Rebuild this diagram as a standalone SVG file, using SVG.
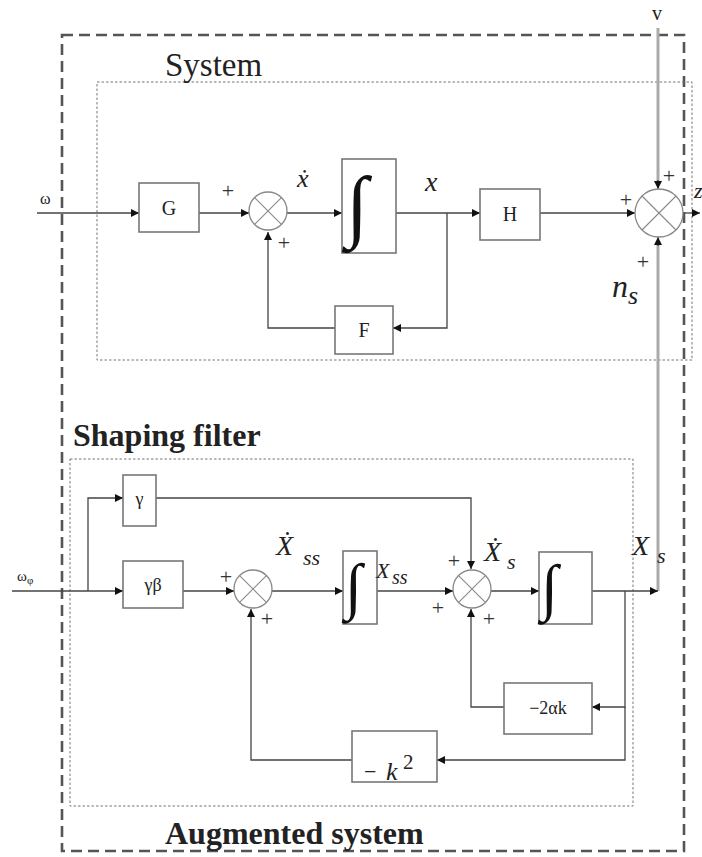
<svg xmlns="http://www.w3.org/2000/svg" width="702" height="857" viewBox="0 0 702 857">
<defs>
<marker id="ah" viewBox="0 0 10 10" refX="10" refY="5" markerWidth="8" markerHeight="8" markerUnits="userSpaceOnUse" orient="auto">
<path d="M0 0 L10 5 L0 10 Z" fill="#111"/>
</marker>
<style>
.blk{fill:#fff;stroke:#777;stroke-width:1.6}
.sum{fill:#fff;stroke:#888;stroke-width:1.3}
.cr{stroke:#888;stroke-width:1.1}
.ln{fill:none;stroke:#444;stroke-width:1.3}
.gl{fill:none;stroke:#aaa;stroke-width:3}
.t{font-family:"Liberation Serif","DejaVu Serif",serif;fill:#222}
.it{font-family:"Liberation Serif","DejaVu Serif",serif;font-style:italic;fill:#222}
.pl{font-family:"Liberation Serif","DejaVu Serif",serif;font-size:22px;fill:#333}
.int{font-family:"Liberation Serif","DejaVu Serif",serif;font-weight:bold;fill:#111}
</style>
</defs>
<rect width="702" height="857" fill="#fff"/>

<!-- frames -->
<g id="augmented">
<rect x="62" y="35" width="622" height="816" fill="none" stroke="#555" stroke-width="2.6" stroke-dasharray="11 6"/>
<text class="t" x="165" y="844" font-size="32" font-weight="bold">Augmented system</text>
</g>
<g id="system">
<rect x="97" y="82" width="595" height="278" fill="none" stroke="#777" stroke-width="1" stroke-dasharray="2.5 2"/>
<text class="t" x="165" y="76" font-size="33">System</text>
</g>
<g id="shaping">
<rect x="70" y="459" width="563" height="347" fill="none" stroke="#777" stroke-width="1" stroke-dasharray="2.5 2"/>
<text class="t" x="73" y="446" font-size="32" font-weight="bold">Shaping filter</text>
</g>

<!-- connectors -->
<g id="connectors">
<path class="ln" d="M37 213 H139" marker-end="url(#ah)"/>
<path class="ln" d="M199 213 H249" marker-end="url(#ah)"/>
<path class="ln" d="M287 213 H342" marker-end="url(#ah)"/>
<path class="ln" d="M396 213 H480" marker-end="url(#ah)"/>
<path class="ln" d="M447 213 V328 H393" marker-end="url(#ah)"/>
<path class="ln" d="M335 328 H268 V232" marker-end="url(#ah)"/>
<path class="ln" d="M540 213 H635" marker-end="url(#ah)"/>
<path class="gl" d="M658 28 V182"/>
<path class="ln" d="M658 180 V189" marker-end="url(#ah)"/>
<path class="ln" d="M683 213 H700" marker-end="url(#ah)"/>
<path class="gl" d="M658 591 V244"/>
<path class="ln" d="M658 246 V237" marker-end="url(#ah)"/>
<path class="ln" d="M12 591 H123" marker-end="url(#ah)"/>
<path class="ln" d="M88 591 V498 H123" marker-end="url(#ah)"/>
<path class="ln" d="M183 591 H234" marker-end="url(#ah)"/>
<path class="ln" d="M272 591 H343" marker-end="url(#ah)"/>
<path class="ln" d="M377 591 H453" marker-end="url(#ah)"/>
<path class="ln" d="M156 498 H471 V569" marker-end="url(#ah)"/>
<path class="ln" d="M491 591 H539" marker-end="url(#ah)"/>
<path class="ln" d="M592 591 H658" marker-end="url(#ah)"/>
<path class="ln" d="M625 591 V707 H592" marker-end="url(#ah)"/>
<path class="ln" d="M504 707 H471 V609" marker-end="url(#ah)"/>
<path class="ln" d="M625 707 V760 H437" marker-end="url(#ah)"/>
<path class="ln" d="M352 760 H251 V609" marker-end="url(#ah)"/>
</g>

<!-- nodes -->
<g id="G"><rect class="blk" x="139" y="183" width="60" height="49"/><text class="t" x="169" y="215" font-size="20" text-anchor="middle">G</text></g>
<g id="sum1"><circle class="sum" cx="268" cy="211" r="19"/><path class="cr" d="M254.6 197.6 L281.4 224.4 M281.4 197.6 L254.6 224.4"/></g>
<g id="int1"><rect class="blk" x="342" y="159" width="54" height="94"/><text class="int" x="346" y="232" font-size="80">∫</text></g>
<g id="H"><rect class="blk" x="480" y="189" width="60" height="51"/><text class="t" x="510" y="221" font-size="20" text-anchor="middle">H</text></g>
<g id="F"><rect class="blk" x="335" y="306" width="58" height="48"/><text class="t" x="364" y="337" font-size="20" text-anchor="middle">F</text></g>
<g id="sum2"><circle class="sum" cx="659" cy="213" r="24"/><path class="cr" d="M642 196 L676 230 M676 196 L642 230"/></g>
<g id="gamma"><rect class="blk" x="123" y="475" width="33" height="51"/><text class="t" x="139.5" y="505" font-size="18" text-anchor="middle">γ</text></g>
<g id="gammabeta"><rect class="blk" x="123" y="561" width="60" height="47"/><text class="t" x="153" y="591" font-size="18" text-anchor="middle">γβ</text></g>
<g id="sum4"><circle class="sum" cx="253" cy="589" r="19"/><path class="cr" d="M239.6 575.6 L266.4 602.4 M266.4 575.6 L239.6 602.4"/></g>
<g id="int2"><rect class="blk" x="343" y="551" width="34" height="73"/><text class="int" x="345" y="607" font-size="62">∫</text></g>
<g id="sum5"><circle class="sum" cx="472" cy="589" r="19"/><path class="cr" d="M458.6 575.6 L485.4 602.4 M485.4 575.6 L458.6 602.4"/></g>
<g id="int3"><rect class="blk" x="539" y="552" width="53" height="72"/><text class="int" x="541" y="608" font-size="62">∫</text></g>
<g id="m2ak"><rect class="blk" x="504" y="683" width="88" height="51"/><text class="t" x="548" y="714" font-size="18" text-anchor="middle">−2αk</text></g>
<g id="mk2"><rect class="blk" x="352" y="731" width="85" height="51"/><text class="t" x="364" y="779" font-size="22">−</text><text class="it" x="386" y="780" font-size="26">k</text><text class="t" x="403" y="769" font-size="21">2</text></g>

<!-- labels -->
<g id="labels">
<text class="t" x="40" y="204" font-size="16">ω</text>
<text class="t" x="17" y="581" font-size="15">ω<tspan font-size="11" dy="3">φ</tspan></text>
<text class="t" x="652" y="20" font-size="20">v</text>
<text class="it" x="694" y="198" font-size="22">z</text>
<text class="it" x="297" y="187" font-size="26">ẋ</text>
<text class="it" x="425" y="191" font-size="28">x</text>
<text class="it" x="612" y="297" font-size="32">n</text>
<text class="it" x="628" y="304" font-size="26">s</text>
<text class="it" x="276" y="555" font-size="28">Ẋ</text>
<text class="it" x="303" y="565" font-size="22">ss</text>
<text class="it" x="376" y="578" font-size="22">X</text>
<text class="it" x="392" y="584" font-size="20">ss</text>
<text class="it" x="484" y="561" font-size="28">Ẋ</text>
<text class="it" x="507" y="569" font-size="22">s</text>
<text class="it" x="632" y="555" font-size="28">X</text>
<text class="it" x="657" y="563" font-size="22">s</text>
<text class="pl" x="228" y="198" text-anchor="middle">+</text>
<text class="pl" x="284" y="250" text-anchor="middle">+</text>
<text class="pl" x="669" y="183" text-anchor="middle">+</text>
<text class="pl" x="626" y="207" text-anchor="middle">+</text>
<text class="pl" x="643" y="269" text-anchor="middle">+</text>
<text class="pl" x="226" y="584" text-anchor="middle">+</text>
<text class="pl" x="267" y="626" text-anchor="middle">+</text>
<text class="pl" x="454" y="568" text-anchor="middle">+</text>
<text class="pl" x="438" y="615" text-anchor="middle">+</text>
<text class="pl" x="489" y="626" text-anchor="middle">+</text>
</g>
</svg>
